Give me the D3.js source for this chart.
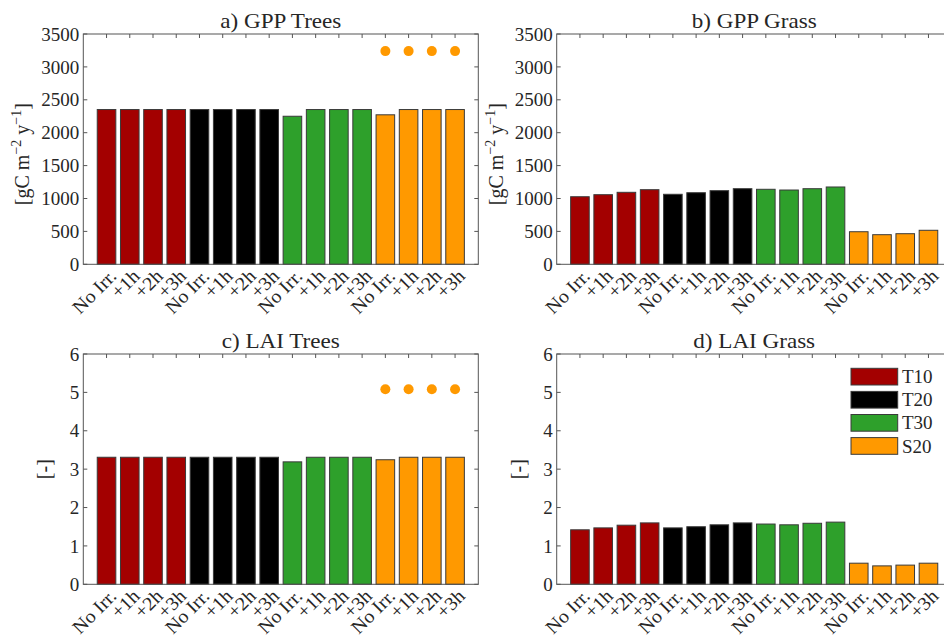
<!DOCTYPE html>
<html>
<head>
<meta charset="utf-8">
<script src="https://cdn.jsdelivr.net/npm/d3@7"></script>
<style>
  html, body { margin: 0; padding: 0; background: #fff; overflow: hidden; }
  svg { display: block; }
  text { font-family: "Liberation Serif", "Times New Roman", serif; fill: #262626; }
</style>
</head>
<body>
<svg id="chart" width="944" height="644"></svg>
<script>
// ---------------- data ----------------
const categories = ["No Irr.", "+1h", "+2h", "+3h", "No Irr.", "+1h", "+2h", "+3h",
                    "No Irr.", "+1h", "+2h", "+3h", "No Irr.", "+1h", "+2h", "+3h"];
const groups = ["T10", "T20", "T30", "S20"];
const groupColors = ["#a30000", "#000000", "#2ea02b", "#ff9900"];
const barGroup = [0,0,0,0, 1,1,1,1, 2,2,2,2, 3,3,3,3];

const gppTrees = [2352, 2352, 2352, 2352, 2352, 2352, 2352, 2352, 2250, 2352, 2352, 2352, 2272, 2352, 2352, 2352];
const gppGrass = [1027, 1058, 1094, 1134, 1064, 1088, 1119, 1149, 1140, 1129, 1149, 1175, 495, 450, 465, 517];
const laiTrees = [3.31, 3.31, 3.31, 3.31, 3.31, 3.31, 3.31, 3.31, 3.19, 3.31, 3.31, 3.31, 3.245, 3.31, 3.31, 3.31];
const laiGrass = [1.42, 1.47, 1.54, 1.60, 1.47, 1.50, 1.55, 1.60, 1.57, 1.55, 1.59, 1.62, 0.55, 0.48, 0.50, 0.55];

const dotIndex = [13, 14, 15, 16];
const gppTreesDots = [3240, 3240, 3240, 3240];
const laiTreesDots = [5.08, 5.08, 5.08, 5.08];

const gppTicks = [0, 500, 1000, 1500, 2000, 2500, 3000, 3500];
const laiTicks = [0, 1, 2, 3, 4, 5, 6];

// ---------------- layout ----------------
const svg = d3.select("#chart");
const panels = [
  { title: "a) GPP Trees", values: gppTrees, dots: gppTreesDots, ymax: 3500, ticks: gppTicks, unit: "gpp",
    x0: 83.3, x1: 478.3, y0: 34, y1: 264.3 },
  { title: "b) GPP Grass", values: gppGrass, dots: null, ymax: 3500, ticks: gppTicks, unit: "gpp",
    x0: 556.7, x1: 951.7, y0: 34, y1: 264.3 },
  { title: "c) LAI Trees", values: laiTrees, dots: laiTreesDots, ymax: 6, ticks: laiTicks, unit: "lai",
    x0: 83.3, x1: 478.3, y0: 354, y1: 584.3 },
  { title: "d) LAI Grass", values: laiGrass, dots: null, ymax: 6, ticks: laiTicks, unit: "lai", legend: true,
    x0: 556.7, x1: 951.7, y0: 354, y1: 584.3 }
];

const axisColor = "#555";
const tickLen = 4;

panels.forEach(p => {
  const x = d3.scaleLinear().domain([0, 17]).range([p.x0, p.x1]);
  const y = d3.scaleLinear().domain([0, p.ymax]).range([p.y1, p.y0]);
  const g = svg.append("g");
  const idx = d3.range(1, 17);
  const bw = x(0.8) - x(0);

  // ticks (inward, all sides)
  const tg = g.append("g").attr("stroke", axisColor).attr("stroke-width", 1);
  idx.forEach(i => {
    tg.append("line").attr("x1", x(i)).attr("x2", x(i)).attr("y1", p.y0).attr("y2", p.y0 + tickLen);
    tg.append("line").attr("x1", x(i)).attr("x2", x(i)).attr("y1", p.y1).attr("y2", p.y1 - tickLen);
  });
  p.ticks.forEach(t => {
    tg.append("line").attr("x1", p.x0).attr("x2", p.x0 + tickLen).attr("y1", y(t)).attr("y2", y(t));
    tg.append("line").attr("x1", p.x1).attr("x2", p.x1 - tickLen).attr("y1", y(t)).attr("y2", y(t));
  });

  // bars
  g.append("g").selectAll("rect").data(p.values).join("rect")
    .attr("x", (d, i) => x(i + 1) - bw / 2)
    .attr("width", bw)
    .attr("y", d => y(d))
    .attr("height", d => y(0) - y(d))
    .attr("fill", (d, i) => groupColors[barGroup[i]])
    .attr("stroke", "#3a3a3a")
    .attr("stroke-width", 1);

  // dots
  if (p.dots) {
    g.append("g").selectAll("circle").data(p.dots).join("circle")
      .attr("cx", (d, i) => x(dotIndex[i]))
      .attr("cy", d => y(d))
      .attr("r", 5)
      .attr("fill", "#ff9900");
  }

  // box
  g.append("rect").attr("x", p.x0).attr("y", p.y0)
    .attr("width", p.x1 - p.x0).attr("height", p.y1 - p.y0)
    .attr("fill", "none").attr("stroke", axisColor).attr("stroke-width", 1);

  // y tick labels
  g.append("g").selectAll("text").data(p.ticks).join("text")
    .attr("x", p.x0 - 4)
    .attr("y", d => y(d))
    .attr("dy", "0.35em")
    .attr("text-anchor", "end")
    .attr("font-size", 19)
    .text(d => d);

  // x tick labels (rotated)
  g.append("g").selectAll("text").data(categories).join("text")
    .attr("text-anchor", "end")
    .attr("font-size", 19)
    .attr("transform", (d, i) => `translate(${x(i + 1) + 11},${p.y1 + 13}) rotate(-45) scale(1.05,1)`)
    .text(d => d);

  // title
  g.append("text")
    .attr("text-anchor", "middle")
    .attr("font-size", 21)
    .attr("fill", "#000")
    .attr("transform", `translate(${(p.x0 + p.x1) / 2},${p.y0 - 6}) scale(1.1,1)`)
    .text(p.title);

  // y label
  const yl = g.append("text")
    .attr("text-anchor", "middle")
    .attr("font-size", 20);
  if (p.unit === "gpp") {
    yl.attr("transform", `translate(${p.x0 - 54},${(p.y0 + p.y1) / 2 + 5}) rotate(-90)`);
    yl.append("tspan").text("[gC m");
    yl.append("tspan").attr("font-size", 14).attr("dy", -8).text("\u22122");
    yl.append("tspan").attr("dy", 8).text(" y");
    yl.append("tspan").attr("font-size", 14).attr("dy", -8).text("\u22121");
    yl.append("tspan").attr("dy", 8).text("]");
  } else {
    yl.attr("transform", `translate(${p.x0 - 32},${(p.y0 + p.y1) / 2}) rotate(-90)`);
    yl.text("[-]");
  }

  // legend
  if (p.legend) {
    const lg = g.append("g");
    groups.forEach((name, k) => {
      const ly = 368.3 + k * 23.1;
      lg.append("rect").attr("x", 851).attr("y", ly).attr("width", 46.7).attr("height", 16.7)
        .attr("fill", groupColors[k]).attr("stroke", "#3a3a3a").attr("stroke-width", 1);
      lg.append("text").attr("x", 902).attr("y", ly + 8.3).attr("dy", "0.35em")
        .attr("font-size", 19).attr("fill", "#000").text(name);
    });
  }
});
</script>
</body>
</html>
